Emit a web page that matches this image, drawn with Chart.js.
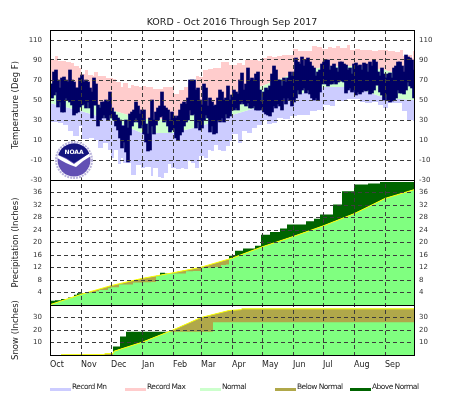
<!DOCTYPE html>
<html><head><meta charset="utf-8">
<script src="https://cdn.jsdelivr.net/npm/chart.js@4"></script>
<style>html,body{margin:0;padding:0;background:#fff}canvas{display:block}</style>
</head><body><canvas id="c" width="464" height="395"></canvas>
<script>
const monthLabels=['Oct','Nov','Dec','Jan','Feb','Mar','Apr','May','Jun','Jul','Aug','Sep'];
const monthStarts=[0,31,61,92,123,151,182,212,243,273,304,335];
const tempTicks=[-30,-10,10,30,50,70,90,110];
const precipTicks=[4,8,12,16,20,24,28,32,36];
const snowTicks=[10,20,30];
const legendNames=['Record Mn','Record Max','Normal','Below Normal','Above Normal'];

const recMaxDays=[0,4,5,8,13,16,21,24,29,31,35,38,43,44,48,53,56,63,66,71,73,78,81,84,89,93,96,103,109,113,118,123,124,129,134,138,141,146,149,153,158,163,168,171,176,179,182,187,192,195,202,208,212,217,222,227,232,237,243,248,253,258,262,267,272,278,282,286,290,297,300,305,310,315,322,328,335,338,345,350,353,358,362,363,364];
const recMaxVals=[90,90,94,89,89,88,87,84,82,76,80,75,74,78,74,74,72,71,68,63,67,62,65,64,63,64,63,61,61,63,63,65,56,60,63,67,69,74,73,80,81,82,82,88,88,85,85,87,85,90,90,89,92,94,93,94,95,95,101,99,99,99,104,103,101,103,102,104,102,105,100,101,100,100,99,100,100,99,98,100,94,95,92,99,99];
const recMinDays=[0,8,13,18,23,29,32,39,44,48,53,58,61,64,68,71,73,81,86,91,95,101,103,108,111,114,118,121,126,131,134,138,141,145,149,154,158,161,164,168,171,176,180,182,188,192,197,202,207,212,217,222,227,233,240,247,253,260,267,273,280,285,290,297,303,310,315,322,328,333,338,345,352,357,363,364];
const recMinVals=[28,27,25,19,14,24,11,12,10,2,7,0,-8,0,-14,-8,-13,-25,-15,-18,-17,-26,-18,-27,-28,-23,-14,-18,-19,-18,-19,-11,-13,-18,-6,-8,0,-1,5,0,-1,4,9,16,7,19,17,22,25,30,26,27,32,31,34,35,35,39,40,45,44,50,49,51,51,48,47,48,45,42,47,47,39,30,29,29];
const normalDays=[0,31,61,92,123,151,182,212,243,273,304,335,364];
const normalHigh=[68,53,40,31,31,39,52,64,76,83,84,80,70];
const normalLow=[47,39,30,17,17,24,35,44,54,63,63,52,50];

const actualDays=[0,2,4,6,8,10,12,14,16,18,20,22,24,26,28,30,32,34,36,38,40,42,44,46,48,50,52,54,56,58,60,62,64,66,68,70,72,74,76,78,80,82,84,86,88,90,92,94,96,98,100,102,104,106,108,110,112,114,116,118,120,122,124,126,128,130,132,134,136,138,140,142,144,146,148,150,152,154,156,158,160,162,164,166,168,170,172,174,176,178,180,182,184,186,188,190,192,194,196,198,200,202,204,206,208,210,212,214,216,218,220,222,224,226,228,230,232,234,236,238,240,242,244,246,248,250,252,254,256,258,260,262,264,266,268,270,272,274,276,278,280,282,284,286,288,290,292,294,296,298,300,302,304,306,308,310,312,314,316,318,320,322,324,326,328,330,332,334,336,338,340,342,344,346,348,350,352,354,356,358,360,362,364];
const actualHigh=[66,66,78,80,70,62,72,73,70,68,80,70,68,62,62,72,75,68,70,68,62,58,72,66,45,42,48,48,50,48,58,42,38,35,32,30,24,24,30,22,36,38,40,48,44,36,40,40,26,16,32,50,30,38,42,44,58,44,42,40,30,38,34,32,34,40,46,48,46,52,70,70,70,60,62,50,45,66,62,44,52,48,44,45,52,60,58,50,52,64,50,55,60,58,56,70,77,60,66,82,70,72,70,76,78,60,42,58,62,60,64,76,84,80,70,70,64,72,68,72,78,74,78,92,88,86,93,84,90,92,88,84,82,74,78,80,86,88,90,90,80,84,86,82,78,88,88,86,85,80,82,76,86,87,84,85,80,87,86,78,88,84,90,88,78,74,82,76,72,76,77,72,82,84,88,88,84,78,95,93,92,90,80];
const actualLow=[55,52,55,58,43,48,38,38,52,50,48,45,35,37,38,43,45,46,42,48,42,32,45,45,24,30,32,35,32,30,35,32,30,24,20,12,2,8,-2,-12,15,24,28,32,28,22,25,16,8,-1,0,24,16,25,30,33,34,28,30,24,18,20,22,12,10,15,18,24,28,30,40,35,36,22,28,20,22,30,35,32,18,24,16,17,30,28,32,28,36,32,34,40,40,42,40,46,48,46,44,47,42,42,44,40,40,40,48,38,36,35,34,38,44,42,46,44,40,52,46,52,50,44,48,52,60,56,60,62,57,60,56,52,50,52,50,58,66,67,66,64,66,66,68,66,68,69,69,68,57,60,62,58,60,55,58,56,58,60,59,60,56,57,60,65,65,58,55,50,56,50,48,49,50,52,60,57,57,56,60,68,64,62,52];

const precipNormalDays=[0,31,61,92,123,151,182,212,243,273,304,335,364];
const precipNormal=[0.1,3.4,6.2,8.5,10.3,12.1,15,18.6,21.9,25.3,29.2,34.1,36.9];
const precipActualDays=[0,5,11,18,24,27,39,46,49,58,61,69,83,93,101,106,110,115,126,136,143,151,163,171,176,179,185,193,205,211,220,230,237,256,264,270,283,292,304,318,330,364];
const precipActual=[1.4,1.5,1.9,2.4,3.3,3.8,3.9,4.4,4.8,5.4,5.7,6.6,7.2,7.3,7.4,9.2,10.3,10.1,10.1,10.8,10.9,11.9,12.2,12.8,13,15.8,17.4,18.1,19,22.5,23.4,24.5,25.8,26.8,27.6,29,32.2,36.4,38.6,38.9,39.4,39.5];

const snowNormalDays=[11,54,55,63,64,92,123,151,179,191,192,364];
const snowNormal=[0.2,0.3,1,1.2,3,10.2,20,30,35.6,36.3,37,37];
const snowActualDays=[11,63,70,76,163,364];
const snowActual=[0.1,6.8,14.8,18.7,26.2,26.2];

const colors={recMin:'#ccccff',recMax:'#ffcccc',normal:'#ccffcc',wet:'#80ff80',below:'#b0a84a',above:'#006400',actual:'#000066',line:'#ffff00',grid:'#3c3c3c',text:'#333333'};
const legendColors=[colors.recMin,colors.recMax,colors.normal,colors.below,colors.above];

const pts=(xs,ys)=>xs.map((x,i)=>({x,y:ys[i]}));
const band=(label,xs,ys,yAxisID,bg,target,order,stepped)=>({type:'line',label,data:pts(xs,ys),yAxisID,xAxisID:'x',backgroundColor:bg,
  borderWidth:0,pointRadius:0,stepped:stepped||false,tension:0,order,fill:target===null?false:(typeof target==='string'?target:{target,above:bg.above||bg,below:bg.below||bg})});

const datasets=[
 band('Record Max',recMaxDays,recMaxVals,'yT',colors.recMax,2,30,'before'),      // 0
 band('Record Mn',recMinDays,recMinVals,'yT',colors.recMin,3,29,'before'),       // 1
 band('Normal High',normalDays,normalHigh,'yT',colors.normal,3,28),              // 2
 band('Normal Low',normalDays,normalLow,'yT',colors.normal,null,27),             // 3
 {type:'bar',label:'Actual',data:actualDays.map((x,i)=>({x,y:[actualLow[i],actualHigh[i]]})),yAxisID:'yT',xAxisID:'x',
  backgroundColor:colors.actual,barThickness:3,order:5},                         // 4
 band('Precip Normal',precipNormalDays,precipNormal,'yP',colors.wet,'start',20), // 5
 {type:'line',label:'Precip Actual',data:pts(precipActualDays,precipActual),yAxisID:'yP',xAxisID:'x',borderWidth:0,pointRadius:0,
  stepped:'before',order:19,fill:{target:5,above:colors.above,below:colors.below}}, // 6
 {type:'line',label:'Precip Normal Line',data:pts(precipNormalDays,precipNormal),yAxisID:'yP',xAxisID:'x',borderColor:colors.line,borderWidth:1,pointRadius:0,fill:false,order:4}, // 7
 band('Snow Normal',snowNormalDays,snowNormal,'yS',colors.wet,'start',18),       // 8
 {type:'line',label:'Snow Actual',data:pts(snowActualDays,snowActual),yAxisID:'yS',xAxisID:'x',borderWidth:0,pointRadius:0,
  stepped:'before',order:17,fill:{target:8,above:colors.above,below:colors.below}}, // 9
 {type:'line',label:'Snow Normal Line',data:pts(snowNormalDays,snowNormal),yAxisID:'yS',xAxisID:'x',borderColor:colors.line,borderWidth:1,pointRadius:0,fill:false,order:3} // 10
];

const axisFont={family:'"DejaVu Sans"',size:8.5};
const tickFont={family:'"DejaVu Sans"',size:7};
const leftY=(min,max,ticks,title,stackWeight,weight)=>({type:'linear',position:'left',stack:'L',stackWeight,weight,min,max,
  afterBuildTicks:s=>{s.ticks=ticks.map(value=>({value}))},afterFit:s=>{s.width=50},
  ticks:{font:tickFont,color:colors.text,padding:8,autoSkip:false,callback:v=>String(v)},
  grid:{z:1,color:colors.grid,lineWidth:1,drawTicks:false},border:{display:false,dash:[4,3]},
  title:{display:true,text:title,font:axisFont,color:'#222',padding:{top:11,bottom:0}}});
const rightY=(min,max,ticks,stackWeight,weight)=>({type:'linear',position:'right',stack:'R',stackWeight,weight,min,max,
  afterBuildTicks:s=>{s.ticks=ticks.map(value=>({value}))},afterFit:s=>{s.width=50},
  ticks:{font:tickFont,color:colors.text,padding:5,autoSkip:false,callback:v=>String(v)},
  grid:{display:false,drawTicks:false},border:{display:false}});

const frame={id:'frame',afterDraw(ch){
  const c=ch.ctx,a=ch.chartArea,s=ch.scales;
  c.save();c.strokeStyle='#000';c.lineWidth=1;
  c.strokeRect(a.left+.5,a.top+.5,a.right-a.left,a.bottom-a.top);
  [s.yT.bottom,s.yP.bottom].forEach(y=>{c.beginPath();c.moveTo(a.left,y+.5);c.lineTo(a.right,y+.5);c.stroke();});
  // legend
  c.textBaseline='middle';c.textAlign='left';c.font='7.5px "DejaVu Sans"';c.letterSpacing='-0.55px';
  legendNames.forEach((n,i)=>{const x=50+75*i;c.fillStyle=legendColors[i];c.fillRect(x,388,21,3);c.fillStyle='#222';c.fillText(n,x+22,387);});
  c.letterSpacing='0px';
  // logo
  const lx=74,ly=160;
  c.beginPath();c.arc(lx,ly,19,0,Math.PI*2);c.fillStyle='#fff';c.fill();
  c.beginPath();c.arc(lx,ly,18,0,Math.PI*2);c.strokeStyle='#b9b3dc';c.setLineDash([2,1]);c.lineWidth=2;c.stroke();c.setLineDash([]);
  c.save();c.beginPath();c.arc(lx,ly,16.5,0,Math.PI*2);c.clip();
  c.fillStyle='#6250b4';c.fillRect(lx-18,ly-18,36,36);
  c.fillStyle='#fff';c.beginPath();c.moveTo(lx-18,ly-6);c.quadraticCurveTo(lx-8,ly-2,lx,ly+4);c.lineTo(lx+17,ly-8);c.lineTo(lx+17,ly-4);c.quadraticCurveTo(lx+8,ly+1,lx+2,ly+7);c.quadraticCurveTo(lx-10,ly+3,lx-18,ly-3);c.closePath();c.fill();
  c.fillStyle='#14147e';c.beginPath();c.moveTo(lx-18,ly-18);c.lineTo(lx+18,ly-18);c.lineTo(lx+18,ly-8);c.quadraticCurveTo(lx+8,ly-2,lx,ly+3);c.quadraticCurveTo(lx-8,ly-3,lx-18,ly-6);c.closePath();c.fill();
  c.restore();
  c.fillStyle='#fff';c.font='bold 6px "DejaVu Sans"';c.textAlign='center';c.fillText('NOAA',lx,ly-8);
  c.restore();
}};

new Chart(document.getElementById('c'),{
  type:'line',data:{datasets},plugins:[frame],
  options:{responsive:false,animation:false,parsing:{xAxisKey:'x',yAxisKey:'y'},normalized:false,
    layout:{autoPadding:false,padding:0},
    plugins:{legend:{display:false},tooltip:{enabled:false},
      title:{display:true,text:'KORD - Oct 2016 Through Sep 2017',color:'#222',font:{family:'"DejaVu Sans"',size:9.5,weight:'normal',lineHeight:1.2},padding:{top:17,bottom:1.6}},
      filler:{propagate:false}},
    scales:{
      x:{type:'linear',position:'bottom',min:0,max:364,offset:false,
        afterBuildTicks:s=>{s.ticks=monthStarts.map(value=>({value}))},afterFit:s=>{s.height=40},
        ticks:{font:{family:'"DejaVu Sans"',size:8},color:'#222',align:'start',padding:5,autoSkip:false,maxRotation:0,callback:v=>monthLabels[monthStarts.indexOf(v)]},
        grid:{z:1,offset:false,color:colors.grid,lineWidth:1,drawTicks:false},border:{display:false,dash:[4,3]}},
      yT:leftY(-30,120,tempTicks,'Temperature (Deg F)',150,3),
      yP:leftY(0,40,precipTicks,'Precipitation (Inches)',125,2),
      yS:leftY(0,40,snowTicks,'Snow (Inches)',50,1),
      yTR:rightY(-30,120,tempTicks,150,1),
      yPR:rightY(0,40,precipTicks,125,2),
      ySR:rightY(0,40,snowTicks,50,3)
    }}
});
</script></body></html>
